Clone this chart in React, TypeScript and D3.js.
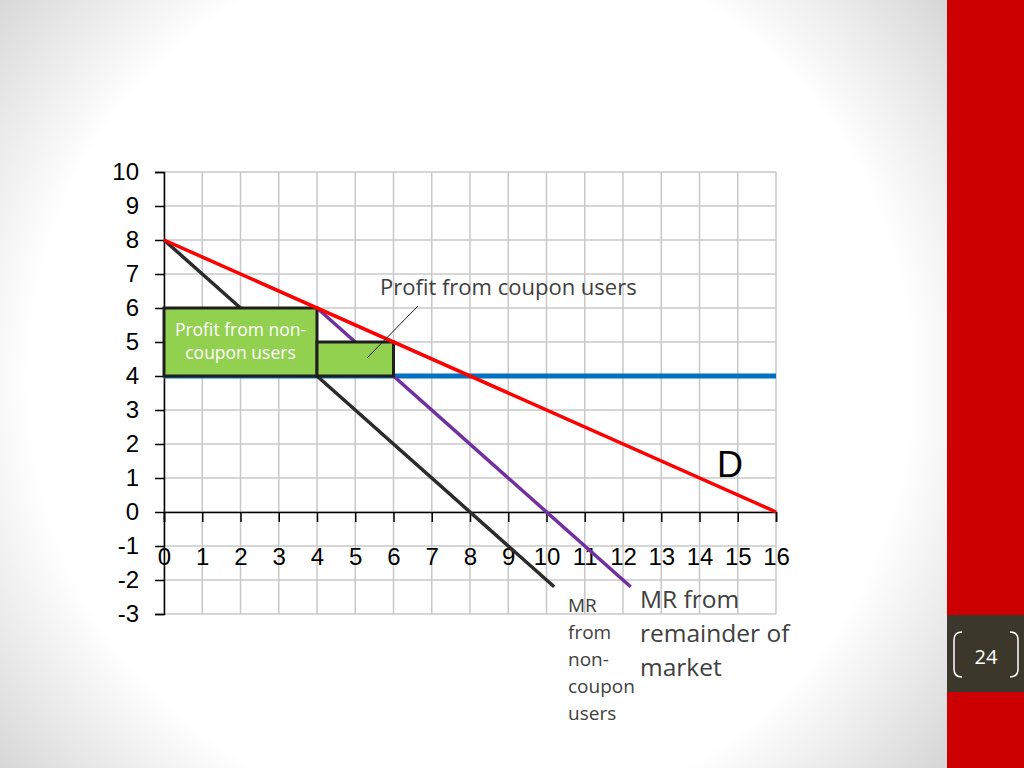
// react
import { useEffect, useRef } from "react";

// d3
import * as d3 from "d3";

type Pt = [number, number];

// data
const X_TICKS = d3.range(0, 17);
const Y_TICKS = d3.range(-3, 11);
const DEMAND: Pt[] = [
  [0, 8],
  [16, 0],
];
const MR_NON_COUPON: Pt[] = [
  [0, 8],
  [10.2, -2.2],
];
const MR_REMAINDER: Pt[] = [
  [4, 6],
  [12.2, -2.2],
];
const MC_LEVEL = 4;
const MC_RANGE: [number, number] = [0, 16];
// [x0, y0, x1, y1]
const PROFIT_NON_COUPON = [0, 4, 4, 6];
const PROFIT_COUPON = [4, 4, 6, 5];
const NON_COUPON_LABEL = ["Profit from non-", "coupon users"];
const COUPON_LABEL = "Profit from coupon users";
const MR_NON_COUPON_LABEL = ["MR", "from", "non-", "coupon", "users"];
const MR_REMAINDER_LABEL = ["MR from", "remainder of", "market"];
const PAGE_NUMBER = "24";

const AXIS_FONT = "'Liberation Sans', Arial, sans-serif";
const TEXT_FONT = "'Open Sans', 'Noto Sans', sans-serif";

export default function App() {
  const ref = useRef<SVGSVGElement>(null);

  useEffect(() => {
    if (!ref.current) return;
    const svg = d3.select(ref.current);
    svg.selectAll("*").remove();

    const W = 1024;
    const H = 768;

    // slide background
    const defs = svg.append("defs");
    const grad = defs
      .append("radialGradient")
      .attr("id", "bg")
      .attr("gradientUnits", "userSpaceOnUse")
      .attr("cx", 470)
      .attr("cy", 380)
      .attr("r", 630);
    grad.append("stop").attr("offset", 0.7).attr("stop-color", "#ffffff");
    grad.append("stop").attr("offset", 1).attr("stop-color", "#d2d2d2");
    svg
      .append("rect")
      .attr("width", W)
      .attr("height", H)
      .attr("fill", "url(#bg)");

    // red side bar + page number
    svg
      .append("rect")
      .attr("x", 947)
      .attr("y", 0)
      .attr("width", W - 947)
      .attr("height", H)
      .attr("fill", "#cc0000");
    svg
      .append("rect")
      .attr("x", 947)
      .attr("y", 615)
      .attr("width", W - 947)
      .attr("height", 77)
      .attr("fill", "#3b372b");
    svg
      .append("path")
      .attr("d", "M962,632 Q954,632 954,640 L954,669 Q954,677 962,677")
      .attr("fill", "none")
      .attr("stroke", "#ffffff")
      .attr("stroke-width", 1.5);
    svg
      .append("path")
      .attr("d", "M1010,632 Q1018,632 1018,640 L1018,669 Q1018,677 1010,677")
      .attr("fill", "none")
      .attr("stroke", "#ffffff")
      .attr("stroke-width", 1.5);
    svg
      .append("text")
      .attr("x", 986)
      .attr("y", 664)
      .attr("text-anchor", "middle")
      .attr("font-family", TEXT_FONT)
      .attr("font-size", 20)
      .attr("fill", "#ffffff")
      .text(PAGE_NUMBER);

    // scales
    const x = d3.scaleLinear().domain([0, 16]).range([164, 776]);
    const y = d3.scaleLinear().domain([-3, 10]).range([614, 172]);

    const g = svg.append("g");

    // grid
    g.append("g")
      .selectAll("line")
      .data(X_TICKS)
      .join("line")
      .attr("x1", (d) => x(d))
      .attr("x2", (d) => x(d))
      .attr("y1", y(10))
      .attr("y2", y(-3))
      .attr("stroke", "#c8c8c8")
      .attr("stroke-width", 1.5);
    g.append("g")
      .selectAll("line")
      .data(Y_TICKS)
      .join("line")
      .attr("x1", x(0))
      .attr("x2", x(16))
      .attr("y1", (d) => y(d))
      .attr("y2", (d) => y(d))
      .attr("stroke", "#c8c8c8")
      .attr("stroke-width", 1.5);

    // axes
    g.append("g")
      .attr("transform", `translate(${x(0)},0)`)
      .call(
        d3
          .axisLeft(y)
          .tickValues(Y_TICKS)
          .tickFormat((d) => String(d))
          .tickSize(9)
          .tickPadding(16),
      )
      .call((a) => {
        a.select(".domain").attr("stroke", "#000").attr("stroke-width", 1.5);
        a.selectAll("line").attr("stroke", "#000").attr("stroke-width", 1.5);
        a.selectAll("text")
          .attr("font-size", 24)
          .attr("font-family", AXIS_FONT)
          .attr("fill", "#000");
      });

    g.append("g")
      .attr("transform", `translate(0,${y(0)})`)
      .call(
        d3
          .axisBottom(x)
          .tickValues(X_TICKS)
          .tickFormat((d) => String(d))
          .tickSize(10)
          .tickPadding(26),
      )
      .call((a) => {
        a.select(".domain").attr("stroke", "#000").attr("stroke-width", 1.5);
        a.selectAll("line").attr("stroke", "#000").attr("stroke-width", 1.5);
        a.selectAll("text")
          .attr("font-size", 24)
          .attr("font-family", AXIS_FONT)
          .attr("fill", "#000");
      });

    const line = d3
      .line<Pt>()
      .x((d) => x(d[0]))
      .y((d) => y(d[1]));

    // MC
    g.append("line")
      .attr("x1", x(MC_RANGE[0]))
      .attr("x2", x(MC_RANGE[1]))
      .attr("y1", y(MC_LEVEL))
      .attr("y2", y(MC_LEVEL))
      .attr("stroke", "#0070c0")
      .attr("stroke-width", 5);

    // MR curves
    g.append("path")
      .attr("d", line(MR_NON_COUPON))
      .attr("fill", "none")
      .attr("stroke", "#2b2b2b")
      .attr("stroke-width", 3.5);
    g.append("path")
      .attr("d", line(MR_REMAINDER))
      .attr("fill", "none")
      .attr("stroke", "#7030a0")
      .attr("stroke-width", 3.5);

    // profit boxes
    [PROFIT_NON_COUPON, PROFIT_COUPON].forEach(([x0, y0, x1, y1]) => {
      g.append("rect")
        .attr("x", x(x0))
        .attr("y", y(y1))
        .attr("width", x(x1) - x(x0))
        .attr("height", y(y0) - y(y1))
        .attr("fill", "#92d050")
        .attr("stroke", "#1e1e1e")
        .attr("stroke-width", 3);
    });

    // demand
    g.append("path")
      .attr("d", line(DEMAND))
      .attr("fill", "none")
      .attr("stroke", "#ff0000")
      .attr("stroke-width", 3.5);

    // labels
    const [bx0, , bx1] = PROFIT_NON_COUPON;
    g.append("text")
      .attr("x", (x(bx0) + x(bx1)) / 2)
      .attr("y", 336)
      .attr("text-anchor", "middle")
      .attr("font-family", TEXT_FONT)
      .attr("font-size", 17.5)
      .attr("fill", "#ffffff")
      .selectAll("tspan")
      .data(NON_COUPON_LABEL)
      .join("tspan")
      .attr("x", (x(bx0) + x(bx1)) / 2)
      .attr("dy", (_, i) => (i === 0 ? 0 : 23))
      .text((d) => d);

    g.append("line")
      .attr("x1", 418)
      .attr("y1", 306)
      .attr("x2", 367)
      .attr("y2", 358)
      .attr("stroke", "#1a1a1a")
      .attr("stroke-width", 1);
    g.append("text")
      .attr("x", 380)
      .attr("y", 295)
      .attr("font-family", TEXT_FONT)
      .attr("font-size", 22)
      .attr("fill", "#404040")
      .text(COUPON_LABEL);

    g.append("text")
      .attr("x", 717)
      .attr("y", 477)
      .attr("font-family", AXIS_FONT)
      .attr("font-size", 36)
      .attr("fill", "#000")
      .text("D");

    g.append("text")
      .attr("font-family", TEXT_FONT)
      .attr("font-size", 19)
      .attr("fill", "#404040")
      .selectAll("tspan")
      .data(MR_NON_COUPON_LABEL)
      .join("tspan")
      .attr("x", 568)
      .attr("y", (_, i) => 612 + i * 27)
      .text((d) => d);

    g.append("text")
      .attr("font-family", TEXT_FONT)
      .attr("font-size", 24.5)
      .attr("fill", "#404040")
      .selectAll("tspan")
      .data(MR_REMAINDER_LABEL)
      .join("tspan")
      .attr("x", 640)
      .attr("y", (_, i) => 608 + i * 34)
      .text((d) => d);
  }, []);

  return (
    <svg
      ref={ref}
      width={1024}
      height={768}
      style={{ position: "absolute", left: 0, top: 0, display: "block" }}
    />
  );
}
